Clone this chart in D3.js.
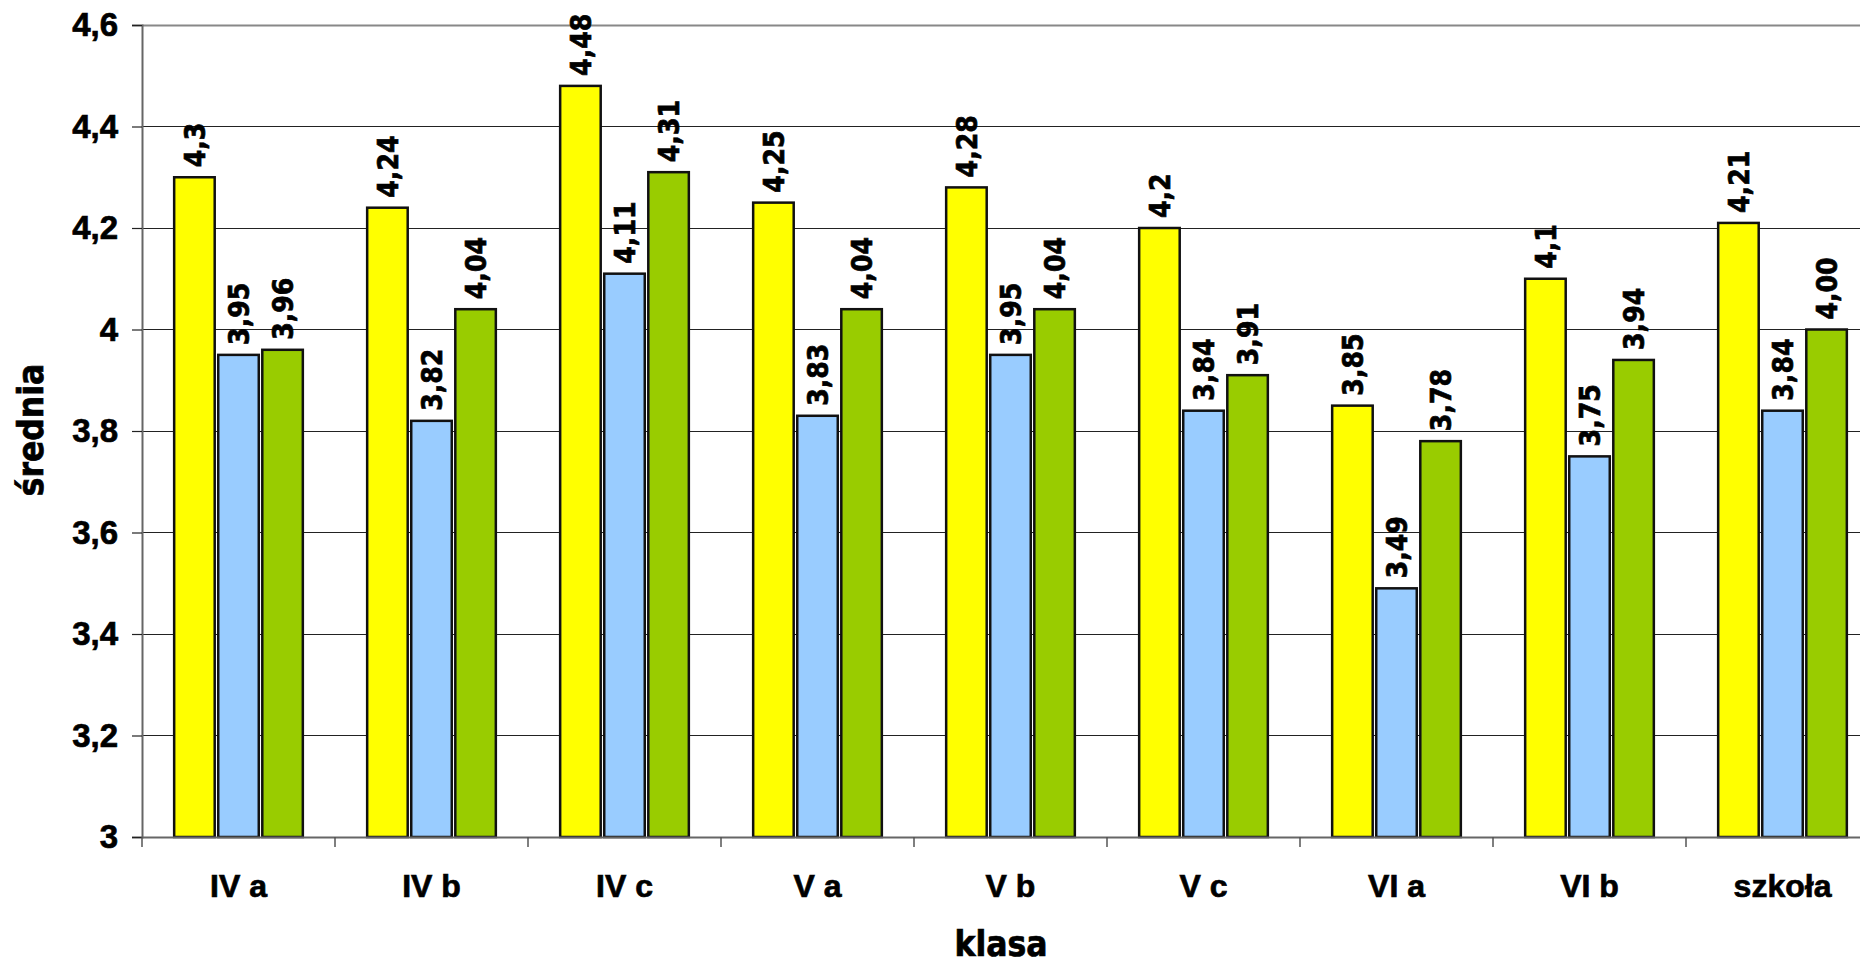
<!DOCTYPE html>
<html>
<head>
<meta charset="utf-8">
<script src="https://cdn.jsdelivr.net/npm/d3@7"></script>
<style>
  body { margin: 0; background: #fff; overflow: hidden; }
  svg { display: block; font-family: 'DejaVu Sans Condensed', 'DejaVu Sans', sans-serif; font-stretch: condensed; font-weight: bold; }
  svg text { stroke: #000; stroke-width: 0.7px; }
</style>
</head>
<body>
<div id="chart"></div>
<script>
// classes and series
const classes = ['IV a', 'IV b', 'IV c', 'V a', 'V b', 'V c', 'VI a', 'VI b', 'szkoła']
const series = ['s1', 's2', 's3']
const colors = ['#ffff00', '#99ccff', '#99cc00']

const values1 = [4.3, 4.24, 4.48, 4.25, 4.28, 4.2, 3.85, 4.1, 4.21]
const values2 = [3.95, 3.82, 4.11, 3.83, 3.95, 3.84, 3.49, 3.75, 3.84]
const values3 = [3.96, 4.04, 4.31, 4.04, 4.04, 3.91, 3.78, 3.94, 4.00]

const labels1 = ['4,3', '4,24', '4,48', '4,25', '4,28', '4,2', '3,85', '4,1', '4,21']
const labels2 = ['3,95', '3,82', '4,11', '3,83', '3,95', '3,84', '3,49', '3,75', '3,84']
const labels3 = ['3,96', '4,04', '4,31', '4,04', '4,04', '3,91', '3,78', '3,94', '4,00']

const yTicks = [3, 3.2, 3.4, 3.6, 3.8, 4, 4.2, 4.4, 4.6]
const yTickLabels = ['3', '3,2', '3,4', '3,6', '3,8', '4', '4,2', '4,4', '4,6']

const allValues = [values1, values2, values3]
const allLabels = [labels1, labels2, labels3]

// canvas
const width = 1860,
height = 964,
plotLeft = 142,
plotTop = 25,
plotBottom = 837,
plotRight = 1879

const svg = d3.select('#chart')
.append('svg')
.attr('width', width)
.attr('height', height)

const x0 = d3.scaleBand()
.domain(classes)
.range([plotLeft, plotRight])

const x1 = d3.scaleBand()
.domain(series)
.range([0, x0.bandwidth()])
.paddingInner(0.08)
.paddingOuter(0.73)

const y = d3.scaleLinear()
.domain([3, 4.6])
.range([plotBottom, plotTop])

// gridlines
svg.append('g')
.selectAll('line')
.data(yTicks.slice(1))
.enter()
.append('line')
.attr('x1', plotLeft)
.attr('x2', width)
.attr('y1', d => Math.round(y(d)) + 0.5)
.attr('y2', d => Math.round(y(d)) + 0.5)
.attr('stroke', d => d === 4.6 ? '#888' : '#222')
.attr('stroke-width', d => d === 4.6 ? 2 : 1.2)

// bars
const rows = classes.map((c, i) => ({
  cls: c,
  items: series.map((s, j) => ({ s: s, j: j, v: allValues[j][i], label: allLabels[j][i] }))
}))

const groups = svg.selectAll('g.grp')
.data(rows)
.enter()
.append('g')
.attr('class', 'grp')
.attr('transform', d => `translate(${x0(d.cls)},0)`)

groups.selectAll('rect')
.data(d => d.items)
.enter()
.append('rect')
.attr('x', d => x1(d.s))
.attr('y', d => y(d.v))
.attr('width', x1.bandwidth())
.attr('height', d => plotBottom - y(d.v))
.attr('fill', d => colors[d.j])
.attr('stroke', '#111')
.attr('stroke-width', 2.5)

groups.selectAll('text')
.data(d => d.items)
.enter()
.append('text')
.attr('transform', d => `translate(${x1(d.s) + x1.bandwidth() / 2},${y(d.v) - 10}) rotate(-90)`)
.attr('dy', '0.36em')
.attr('font-size', 28)
.attr('fill', '#000')
.text(d => d.label)

// y axis
const yAxis = d3.axisLeft(y)
.tickValues(yTicks)
.tickFormat((d, i) => yTickLabels[i])
.tickSize(10)
.tickPadding(14)

const yG = svg.append('g')
.attr('transform', `translate(${plotLeft},0)`)
.call(yAxis)
yG.select('.domain').attr('stroke', '#666').attr('stroke-width', 2)
yG.selectAll('.tick line').attr('stroke', '#222').attr('stroke-width', 1.2)
yG.selectAll('.tick text')
.attr('font-size', 33)
.attr('font-family', null)
.attr('fill', '#000')

// x axis
const xAxis = d3.axisBottom(x0)
.tickSize(0)
.tickPadding(37)

const xG = svg.append('g')
.attr('transform', `translate(0,${plotBottom})`)
.call(xAxis)
xG.select('.domain').attr('stroke', '#666').attr('stroke-width', 2)
xG.selectAll('.tick text')
.attr('font-size', 32)
.attr('font-family', null)
.attr('fill', '#000')

// x ticks at band boundaries
xG.selectAll('line.sep')
.data(d3.range(classes.length + 1))
.enter()
.append('line')
.attr('class', 'sep')
.attr('x1', i => plotLeft + i * x0.step())
.attr('x2', i => plotLeft + i * x0.step())
.attr('y1', 0)
.attr('y2', 10)
.attr('stroke', '#555')
.attr('stroke-width', 1.5)

// axis titles
svg.append('text')
.attr('x', 1001)
.attr('y', 956)
.attr('text-anchor', 'middle')
.attr('font-size', 35)
.text('klasa')

svg.append('text')
.attr('transform', 'translate(43,430) rotate(-90)')
.attr('text-anchor', 'middle')
.attr('font-size', 35)
.text('średnia')
</script>
</body>
</html>
